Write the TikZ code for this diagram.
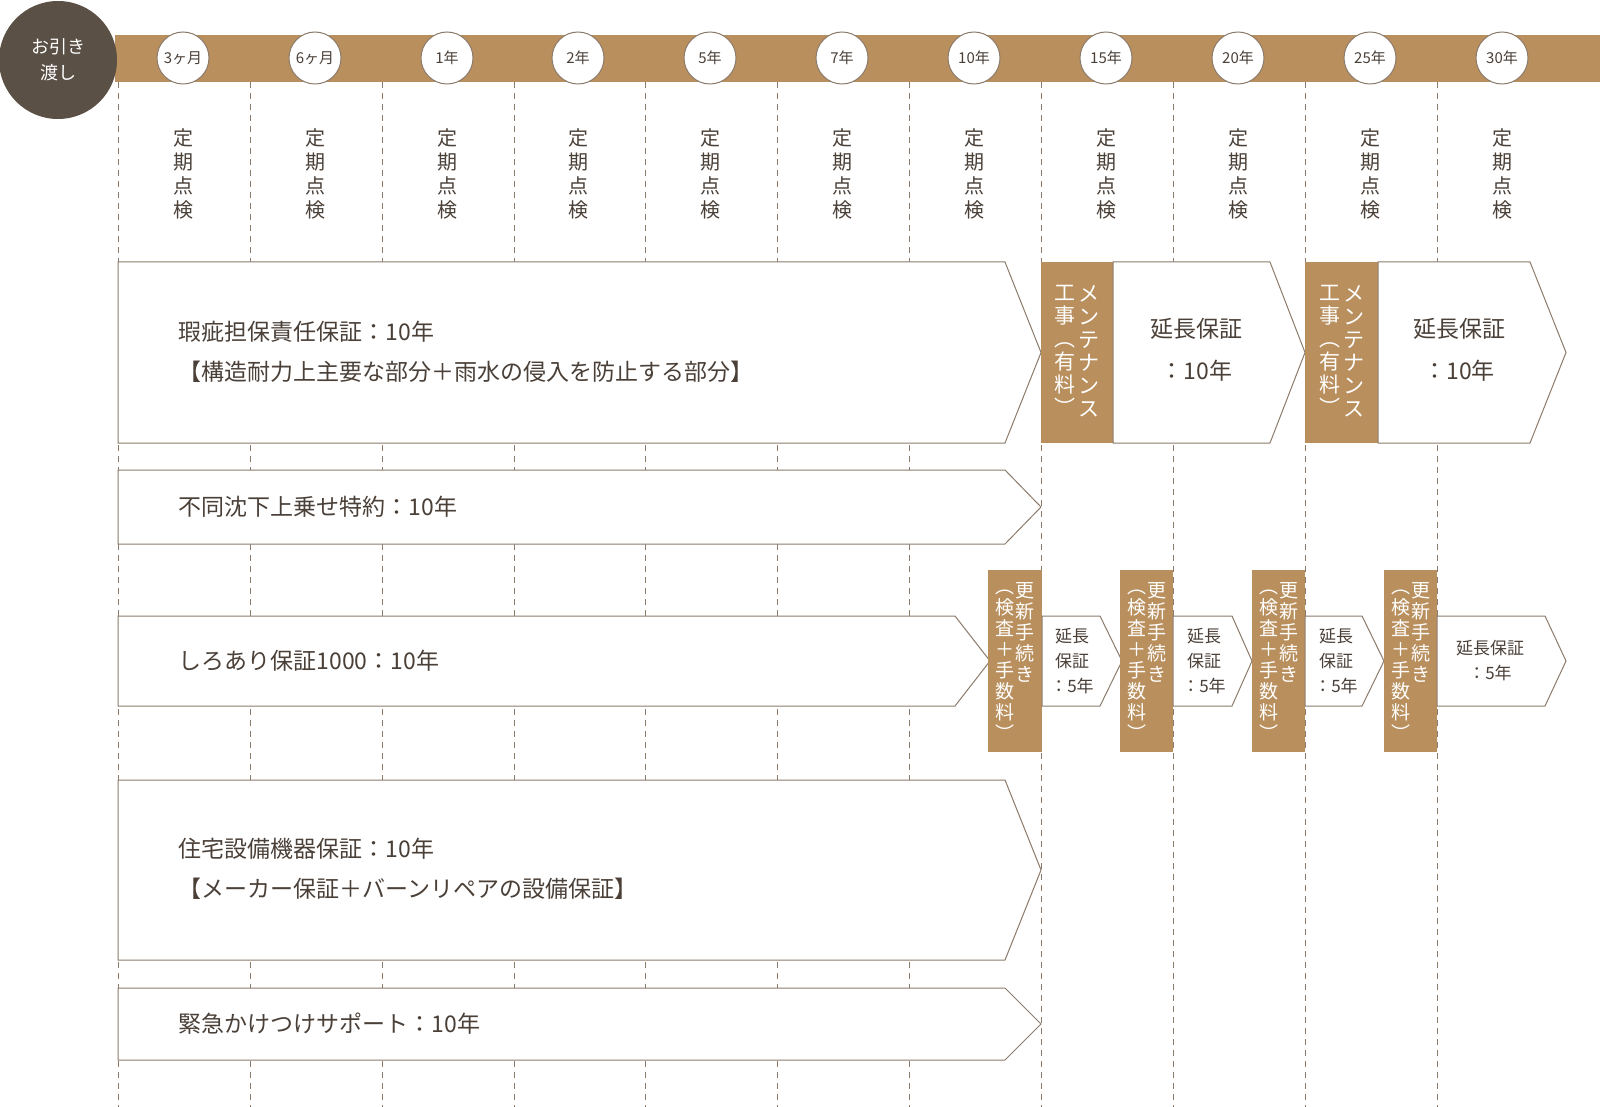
\documentclass[tikz,border=0pt]{standalone}
\usepackage{fontspec}
\setmainfont{Noto Sans CJK JP}
\usetikzlibrary{positioning}
\definecolor{bar}{HTML}{B98F5D}
\definecolor{ink}{HTML}{4A4038}
\definecolor{edge}{HTML}{8C7B6B}
\definecolor{hand}{HTML}{5A5045}
\newcommand{\arrowbox}[5]{% x1, y1, x2, y2, tip
  \draw[box] (#1,#2) -- (#3,#2) -- (#5,{(#2+#4)/2}) -- (#3,#4) -- (#1,#4) -- cycle;}
\begin{document}
\begin{tikzpicture}[
		x=1pt, y=-1pt,
		every node/.style={text=ink},
		box/.style={draw=edge, fill=white, line width=1pt},
		grid line/.style={edge, line width=0.9pt, dash pattern=on 6pt off 5pt},
		year/.style={circle, draw=edge, fill=white, line width=1pt, minimum size=52pt, inner sep=0pt, font=\fontsize{15}{15}\selectfont},
		check/.style={align=center, font=\fontsize{20}{24}\selectfont},
		label/.style={anchor=west, align=left, font=\fontsize{23}{40}\selectfont},
		brown/.style={fill=bar, draw=none},
		vcol/.style={text=white, align=center, inner sep=0pt, anchor=north},
		big col/.style={vcol, font=\fontsize{21}{23}\selectfont},
		small col/.style={vcol, font=\fontsize{19}{21}\selectfont},
		]
	\useasboundingbox (0,0) rectangle (1600,1107);

	% Bar
	\fill[bar] (115,35) rectangle (1600,82);
	\node[circle, fill=hand, minimum size=118pt, text=white, align=center,
		font=\fontsize{18}{26}\selectfont] (hand) at (58,60) {お引き\\渡し};

	% Grid lines
	\foreach \x in {118,250,382,514,645,777,909,1041,1173,1305,1437}{
		\draw[grid line] (\x,82) -- (\x,1107);
	}

	% Years and checks
	\foreach \x/\y [count=\i] in {183/3ヶ月,315/6ヶ月,447/1年,578/2年,710/5年,842/7年,974/10年,1106/15年,1238/20年,1370/25年,1502/30年}{
		\node[year] (y\i) at (\x,58) {\y};
		\node[check] (c\i) at (\x,174) {定\\期\\点\\検};
	}

	% Row 1
	\arrowbox{118}{262}{1005}{443}{1041}
	\node[label] (r1) at (175,352) {瑕疵担保責任保証：10年\\【構造耐力上主要な部分＋雨水の侵入を防止する部分】};
	\foreach \b/\a/\t/\w [count=\i] in {1041/1113/1270/1305,1305/1378/1530/1566}{
		\fill[brown] (\b,262) rectangle (\a,443);
		\node[big col] (mr\i) at ({(\b+\a)/2+12},285) {メ\\ン\\テ\\ナ\\ン\\ス};
		\node[big col] (ml\i) at ({(\b+\a)/2-12},285) {工\\事\\︵\\有\\料\\︶};
		\arrowbox{\a}{262}{\t}{443}{\w}
		\node[check, font=\fontsize{23}{42}\selectfont] (e\i) at ({(\a+\t)/2+5},350) {延長保証\\：10年};
	}

	% Row 2
	\arrowbox{118}{470}{1005}{544}{1041}
	\node[label] (r2) at (175,507) {不同沈下上乗せ特約：10年};

	% Row 3
	\arrowbox{118}{616}{955}{706}{990}
	\node[label] (r3) at (175,661) {しろあり保証1000：10年};
	\foreach \b/\a/\t/\w [count=\i] in {988/1042/1100/1122,1120/1173/1232/1252,1252/1305/1362/1384,1384/1437/1545/1566}{
		\fill[brown] (\b,570) rectangle (\a,752);
		\node[small col] (ur\i) at ({(\b+\a)/2+10},582) {更\\新\\手\\続\\き};
		\node[small col] (ul\i) at ({(\b+\a)/2-10},590) {︵\\検\\査\\＋\\手\\数\\料\\︶};
		\arrowbox{\a}{616}{\t}{706}{\w}
	}
	\node[check, font=\fontsize{17}{25}\selectfont] (s1) at (1072,661) {延長\\保証\\：5年};
	\node[check, font=\fontsize{17}{25}\selectfont] (s2) at (1204,661) {延長\\保証\\：5年};
	\node[check, font=\fontsize{17}{25}\selectfont] (s3) at (1336,661) {延長\\保証\\：5年};
	\node[check, font=\fontsize{17}{25}\selectfont] (s4) at (1490,661) {延長保証\\：5年};

	% Row 4
	\arrowbox{118}{780}{1005}{960}{1041}
	\node[label] (r4) at (175,869) {住宅設備機器保証：10年\\【メーカー保証＋バーンリペアの設備保証】};

	% Row 5
	\arrowbox{118}{988}{1005}{1060}{1041}
	\node[label] (r5) at (175,1024) {緊急かけつけサポート：10年};
\end{tikzpicture}
\end{document}
